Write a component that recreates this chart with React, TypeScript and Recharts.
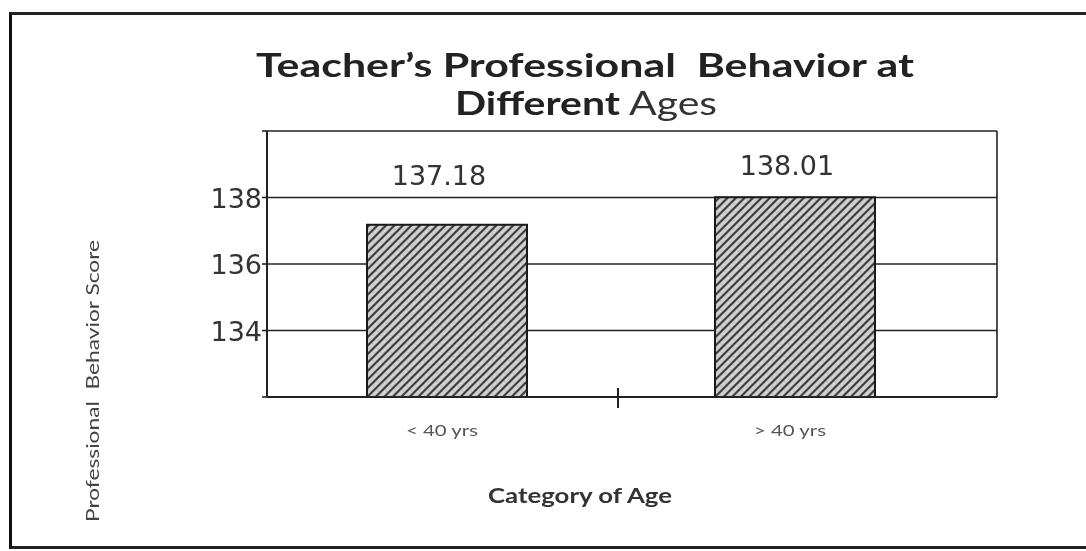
import React from 'react';
import { BarChart, Bar, XAxis, YAxis, CartesianGrid, LabelList } from 'recharts';

const categories = ['< 40 yrs', '> 40 yrs'];
const scores = [137.18, 138.01];
const yTicks = [132, 134, 136, 138, 140];
const shownTicks = [134, 136, 138];

const data = categories.map((c, i) => ({ category: c, score: scores[i] }));

const W = 1070;
const H = 535;
const TICK_SIZE = 6;
const TICK_MARGIN = 2;
const LABEL_OFFSETS = [40, 22];

const XTick = (props: any) => {
  const { x, y, payload, index } = props;
  const axisY = y - TICK_SIZE - TICK_MARGIN;
  const half = payload && typeof payload.offset === 'number' ? payload.offset : 0;
  return (
    <g>
      <text
        x={x - 5}
        y={axisY + 39}
        textAnchor="middle"
        fontFamily="Lato, 'Liberation Sans', sans-serif"
        fontSize={16}
        textLength={72}
        lengthAdjust="spacingAndGlyphs"
        fill="#555"
      >
        {payload.value}
      </text>
      {index === 0 && half > 0 ? (
        <line x1={x + half - 3} x2={x + half - 3} y1={axisY - 9} y2={axisY + 11} stroke="#222" strokeWidth={2} />
      ) : null}
    </g>
  );
};

const YTick = (props: any) => {
  const { x, y, payload } = props;
  if (!shownTicks.includes(payload.value)) return null;
  return (
    <text
      x={x + 2}
      y={y}
      dy={10}
      textAnchor="end"
      fontFamily="'DejaVu Sans', Verdana, sans-serif"
      fontSize={27}
      fill="#333"
    >
      {payload.value}
    </text>
  );
};

const ValueLabel = (props: any) => {
  const { x, y, width, value, index } = props;
  const off = LABEL_OFFSETS[index] ?? 28;
  return (
    <text
      x={x + width / 2 - 8}
      y={y - off}
      textAnchor="middle"
      fontFamily="'DejaVu Sans', Verdana, sans-serif"
      fontSize={27}
      fill="#333"
    >
      {Number(value).toFixed(2)}
    </text>
  );
};

export default function App() {
  return (
    <div style={{ position: 'relative', width: W, height: H, background: '#fff' }}>
      <div
        style={{
          position: 'fixed',
          left: 9,
          top: 12,
          width: 1100,
          height: 537,
          borderLeft: '3px solid #111',
          borderTop: '3px solid #222',
          borderBottom: '3px solid #222',
          boxSizing: 'border-box',
          pointerEvents: 'none',
        }}
      />
      <div style={{ position: 'absolute', left: 0, top: 0 }}>
        <BarChart width={W} height={H} data={data} margin={{ top: 123, right: 81, left: 199, bottom: 116 }}>
          <defs>
            <pattern id="hatch" width="6" height="6" patternUnits="userSpaceOnUse" patternTransform="rotate(-45)">
              <rect x="0" y="0" width="6" height="6" fill="#c4c4c4" />
              <line x1="0" y1="1" x2="6" y2="1" stroke="#222" strokeWidth="1.7" />
              <line x1="0" y1="4" x2="6" y2="4" stroke="#eeeeee" strokeWidth="1.1" strokeDasharray="2 1.5" />
            </pattern>
          </defs>
          <CartesianGrid
            stroke="#222"
            strokeWidth={1.6}
            strokeDasharray=""
            horizontal={true}
            vertical={true}
            verticalCoordinatesGenerator={(p: any) => [p.offset.left, p.offset.left + p.offset.width]}
          />
          <XAxis
            dataKey="category"
            type="category"
            height={30}
            padding={{ left: 6, right: 28 }}
            axisLine={{ stroke: '#222', strokeWidth: 2 }}
            tickLine={false}
            tickSize={TICK_SIZE}
            tickMargin={TICK_MARGIN}
            tick={<XTick />}
            interval={0}
          />
          <YAxis
            type="number"
            domain={[132, 140]}
            ticks={yTicks}
            interval={0}
            allowDataOverflow
            width={60}
            axisLine={{ stroke: '#222', strokeWidth: 2 }}
            tickLine={{ stroke: '#222', strokeWidth: 1.6 }}
            tickSize={5}
            tickMargin={2}
            tick={<YTick />}
          />
          <Bar dataKey="score" barSize={160} fill="url(#hatch)" stroke="#1a1a1a" strokeWidth={2} isAnimationActive={false}>
            <LabelList dataKey="score" content={<ValueLabel />} />
          </Bar>
        </BarChart>
      </div>
      <svg
        width={W}
        height={H}
        style={{ position: 'absolute', left: 0, top: 0, pointerEvents: 'none' }}
      >
        <text
          x={577}
          y={69}
          textAnchor="middle"
          fontFamily="Lato, 'Liberation Sans', sans-serif"
          fontWeight="bold"
          fontSize={33}
          textLength={658}
          lengthAdjust="spacingAndGlyphs"
          fill="#222"
          style={{ whiteSpace: 'pre' }}
        >
          {'Teacher\u2019s Professional  Behavior at'}
        </text>
        <text
          x={578}
          y={107}
          textAnchor="middle"
          fontFamily="Lato, 'Liberation Sans', sans-serif"
          fontSize={33}
          textLength={262}
          lengthAdjust="spacingAndGlyphs"
          fill="#222"
          style={{ whiteSpace: 'pre' }}
        >
          <tspan fontWeight="bold">Different</tspan>
          <tspan fontWeight="normal" fill="#333"> Ages</tspan>
        </text>
        <text
          x={572}
          y={495}
          textAnchor="middle"
          fontFamily="Lato, 'Liberation Sans', sans-serif"
          fontWeight="bold"
          fontSize={20}
          textLength={184}
          lengthAdjust="spacingAndGlyphs"
          fill="#333"
        >
          Category of Age
        </text>
        <text
          x={0}
          y={0}
          transform="translate(91 373) rotate(-90)"
          textAnchor="middle"
          fontFamily="Lato, 'Liberation Sans', sans-serif"
          fontSize={17}
          textLength={282}
          lengthAdjust="spacingAndGlyphs"
          fill="#444"
          style={{ whiteSpace: 'pre' }}
        >
          {'Professional  Behavior Score'}
        </text>
      </svg>
    </div>
  );
}
